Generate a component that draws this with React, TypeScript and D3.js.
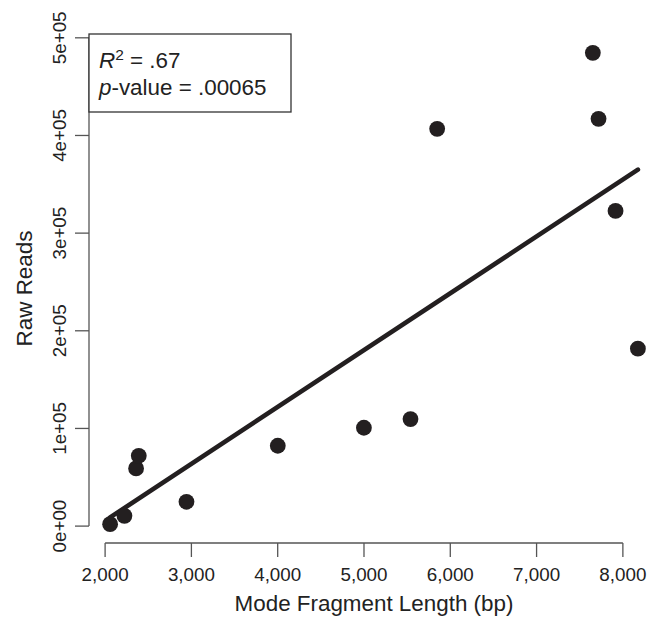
import React from "react";
import * as d3 from "d3";

// values
const fragmentLength = [2058, 2224, 2359, 2390, 2943, 4001, 4999, 5539, 5848, 7652, 7718, 7915, 8174];
const rawReads = [2000, 10500, 59100, 72000, 24900, 82300, 100700, 109600, 406800, 484600, 417000, 322700, 181700];

const xTicks = [2000, 3000, 4000, 5000, 6000, 7000, 8000];
const yTicks = [0, 100000, 200000, 300000, 400000, 500000];
const yTickLabels = ["0e+00", "1e+05", "2e+05", "3e+05", "4e+05", "5e+05"];

const xTitle = "Mode Fragment Length (bp)";
const yTitle = "Raw Reads";
const rSquared = ".67";
const pValue = ".00065";

const width = 660;
const height = 620;
const margin = { top: 34, right: 1, bottom: 77, left: 89 };
const font = "'Liberation Sans', Arial, Helvetica, sans-serif";
const ink = "#231f20";
const axisColor = "#555";

// R style: extend data range by 4% on each side
const padded = (vals: number[]) => {
  const [lo, hi] = d3.extent(vals) as [number, number];
  const p = (hi - lo) * 0.04;
  return [lo - p, hi + p];
};

export default function App() {
  const innerW = width - margin.left - margin.right;
  const innerH = height - margin.top - margin.bottom;

  const x = d3.scaleLinear().domain(padded(fragmentLength)).range([margin.left, margin.left + innerW]);
  const y = d3.scaleLinear().domain(padded(rawReads)).range([margin.top + innerH, margin.top]);

  // least squares fit
  const mx = d3.mean(fragmentLength) as number;
  const my = d3.mean(rawReads) as number;
  let sxy = 0;
  let sxx = 0;
  fragmentLength.forEach((v, i) => {
    sxy += (v - mx) * (rawReads[i] - my);
    sxx += (v - mx) * (v - mx);
  });
  const slope = sxy / sxx;
  const intercept = my - slope * mx;
  const [x0, x1] = d3.extent(fragmentLength) as [number, number];
  const fitLine = d3.line<number>()
    .x(d => x(d))
    .y(d => y(intercept + slope * d))([x0, x1]);

  const axisY = margin.top + innerH;
  const axisX = margin.left;
  const tick = 14;

  return (
    <svg width={width} height={height} style={{ position: "absolute", left: 0, top: 0, background: "#fff" }}
      fontFamily={font}>
      {/* x axis */}
      <g>
        <line x1={x(xTicks[0])} x2={x(xTicks[xTicks.length - 1])} y1={axisY} y2={axisY} stroke={axisColor} strokeWidth={1.3} />
        {xTicks.map(t => (
          <g key={t}>
            <line x1={x(t)} x2={x(t)} y1={axisY} y2={axisY + tick} stroke={axisColor} strokeWidth={1.3} />
            <text x={x(t)} y={axisY + 37.5} textAnchor="middle" fontSize={18.8} fill="#222">{d3.format(",")(t)}</text>
          </g>
        ))}
        <text x={(margin.left + width - margin.right) / 2} y={611} textAnchor="middle" fontSize={22.4} fill="#222">{xTitle}</text>
      </g>

      {/* y axis */}
      <g>
        <line x1={axisX} x2={axisX} y1={y(yTicks[0])} y2={y(yTicks[yTicks.length - 1])} stroke={axisColor} strokeWidth={1.3} />
        {yTicks.map((t, i) => (
          <g key={t}>
            <line x1={axisX - tick} x2={axisX} y1={y(t)} y2={y(t)} stroke={axisColor} strokeWidth={1.3} />
            <text transform={`translate(${axisX - 23},${y(t)}) rotate(-90)`} textAnchor="middle" fontSize={18.8} fill="#222">{yTickLabels[i]}</text>
          </g>
        ))}
        <text transform={`translate(32,${margin.top + innerH / 2}) rotate(-90)`} textAnchor="middle" fontSize={22.4} fill="#222">{yTitle}</text>
      </g>

      {/* fit */}
      <path d={fitLine ?? ""} stroke={ink} strokeWidth={4.6} fill="none" strokeLinecap="round" />

      {/* points */}
      {fragmentLength.map((v, i) => (
        <circle key={i} cx={x(v)} cy={y(rawReads[i])} r={7.9} fill={ink} />
      ))}

      {/* legend */}
      <g>
        <rect x={margin.left} y={margin.top} width={202} height={78} fill="#fff" stroke="#333" strokeWidth={1.3} />
        <text x={margin.left + 10} y={margin.top + 33.5} fontSize={22.4} fill="#222">
          <tspan fontStyle="italic">R</tspan>
          <tspan fontSize={15.5} dy={-8}>2</tspan>
          <tspan dy={8}>{` = ${rSquared}`}</tspan>
        </text>
        <text x={margin.left + 10} y={margin.top + 61} fontSize={22.4} fill="#222">
          <tspan fontStyle="italic">p</tspan>
          <tspan>{`-value = ${pValue}`}</tspan>
        </text>
      </g>
    </svg>
  );
}
